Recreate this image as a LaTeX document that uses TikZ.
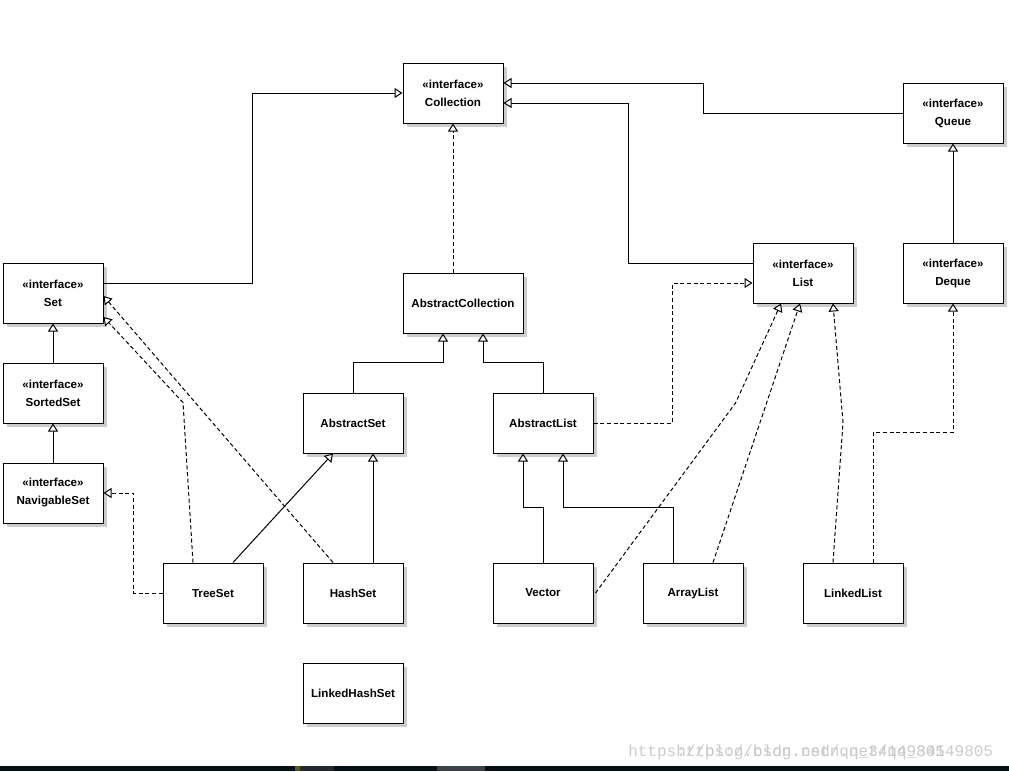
\documentclass[tikz,border=0pt]{standalone}
\usepackage{fontspec}
\setmainfont{Liberation Sans}
\newfontfamily\wmfont{Liberation Mono}
\usetikzlibrary{arrows.meta,calc,shadows}
\definecolor{stripc}{HTML}{051014}
\definecolor{stripa}{HTML}{5A5A1E}
\definecolor{stripb}{HTML}{22282C}
\definecolor{stripd}{HTML}{3A4448}
\tikzset{
  cls/.style={draw=black, line width=0.75pt, fill=white, minimum width=75pt, minimum height=45pt,
    inner sep=0pt, align=center, font=\bfseries\fontsize{8.7}{13.5}\selectfont,
    drop shadow={shadow xshift=3.2pt, shadow yshift=-3.2pt, fill=black!20, opacity=1}},
  gen/.style={line width=0.75pt, -{Triangle[fill=white, length=6pt, width=7.5pt, line width=0.75pt]}},
  real/.style={gen, dash pattern=on 3pt off 2pt},
}
\begin{document}
\begin{tikzpicture}[x=0.75pt, y=-0.75pt]
\useasboundingbox (0,0) rectangle (1009,771);
\fill[white] (0,0) rectangle (1009,771);
% nodes
\node[cls] (coll) at (453,93) {«interface»\\Collection};
\node[cls] (queue) at (953,113) {«interface»\\Queue};
\node[cls] (set) at (53,293) {«interface»\\Set};
\node[cls] (list) at (803,273) {«interface»\\List};
\node[cls] (deque) at (953,273) {«interface»\\Deque};
\node[cls, minimum width=90pt] (abscoll) at (463,303) {AbstractCollection};
\node[cls] (sorted) at (53,393) {«interface»\\SortedSet};
\node[cls] (absset) at (353,423) {AbstractSet};
\node[cls] (abslist) at (543,423) {AbstractList};
\node[cls] (nav) at (53,493) {«interface»\\NavigableSet};
\node[cls] (tree) at (213,593) {TreeSet};
\node[cls] (hash) at (353,593) {HashSet};
\node[cls] (vector) at (543,593) {Vector};
\node[cls] (array) at (693,593) {ArrayList};
\node[cls] (linked) at (853,593) {LinkedList};
\node[cls] (lhs) at (353,693) {LinkedHashSet};
% connectors
\draw[gen] ($(set.east)+(0,-10)$) -| ($(coll.west)+(-150,0)$) -- (coll.west);
\draw[gen] (queue.west) -| ($(coll.east)+(200,-10)$) -- ($(coll.east)+(0,-10)$);
\draw[gen] ($(list.west)+(0,-10)$) -| ($(coll.east)+(125,10)$) -- ($(coll.east)+(0,10)$);
\draw[real] (coll.south |- abscoll.north) -- (coll.south);
\draw[gen] (deque.north) -- (queue.south);
\draw[gen] (sorted.north) -- (set.south);
\draw[gen] (nav.north) -- (sorted.south);
\draw[gen] (absset.north) -- ++(0,-30) -| ($(abscoll.south)+(-20,0)$);
\draw[gen] (abslist.north) -- ++(0,-30) -| ($(abscoll.south)+(20,0)$);
\draw[real] (abslist.east) -| ($(list.west)+(-80,10)$) -- ($(list.west)+(0,10)$);
\draw[real] (tree.west) -| ($(nav.east)+(30,0)$) -- (nav.east);
\draw[real] ($(tree.north)+(-20,0)$) -- ($(tree.north)+(-30,-160)$) -- ($(set.east)+(0,24)$);
\draw[real] ($(hash.north)+(-20,0)$) -- ($(set.east)+(0,3)$);
\draw[gen] ($(tree.north)+(20,0)$) -- ($(absset.south)+(-20,0)$);
\draw[gen] ($(hash.north)+(20,0)$) -- ($(absset.south)+(20,0)$);
\draw[gen] (vector.north) -- ++(0,-55) -| ($(abslist.south)+(-20,0)$);
\draw[gen] ($(array.north)+(-20,0)$) -- ++(0,-55) -| ($(abslist.south)+(20,0)$);
\draw[real] ($(vector.east)+(2,0)$) -- ($(vector.east)+(142,-190)$) -- ($(list.south)+(-22,0)$);
\draw[real] ($(array.north)+(20,0)$) -- ($(list.south)+(-3,0)$);
\draw[real] ($(linked.north)+(-20,0)$) -- ($(linked.north)+(-10,-140)$) -- ($(list.south)+(30,0)$);
\draw[real] ($(linked.north)+(20,0)$) -- ++(0,-130) -| (deque.south);
% watermark (two overlaid copies, as in the reference)
\node[anchor=base west, inner sep=0pt, text=black!20, font=\wmfont\fontsize{12}{12}\selectfont] (wm) at (628,756)
  {\rlap{https://blog.csdn.net/qq\_34149805}\hspace{36pt}https://blog.csdn.net/qq\_34149805};
% bottom strip
\fill[stripc] (0,766) rectangle (1009,771);
\fill[stripa] (295,766) rectangle (300,771);
\fill[stripb] (300,766) rectangle (334,771);
\fill[stripd] (437,766) rectangle (485,771);
\end{tikzpicture}
\end{document}
